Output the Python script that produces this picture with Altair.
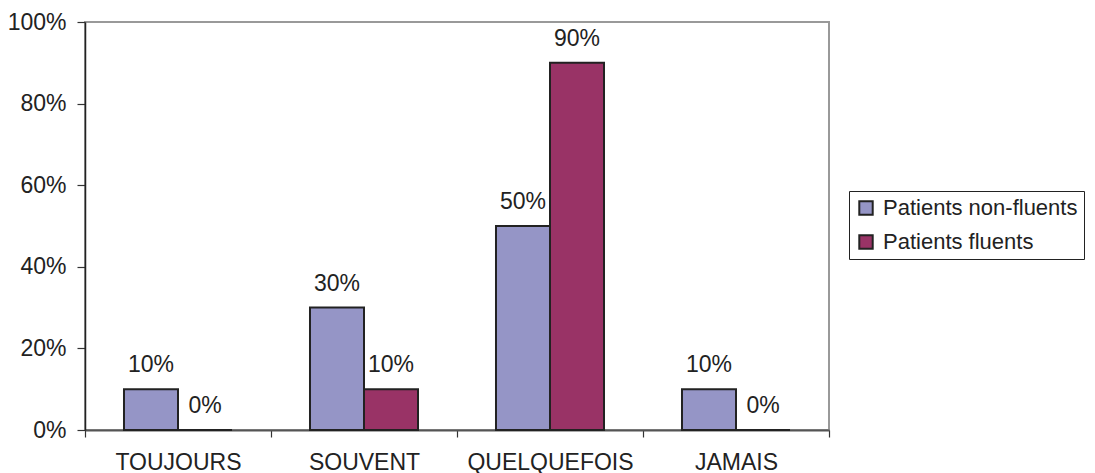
import altair as alt
import pandas as pd

categories = ["TOUJOURS", "SOUVENT", "QUELQUEFOIS", "JAMAIS"]
series = ["Patients non-fluents", "Patients fluents"]
non_fluents = [0.10, 0.30, 0.50, 0.10]
fluents = [0.00, 0.10, 0.90, 0.00]
colors = ["#9595C6", "#993366"]

rows = []
for c, v in zip(categories, non_fluents):
    rows.append({"cat": c, "serie": series[0], "val": v})
for c, v in zip(categories, fluents):
    rows.append({"cat": c, "serie": series[1], "val": v})
df = pd.DataFrame(rows)

FONT = "Liberation Sans"

x = alt.X("cat:N", sort=categories, title=None,
          scale=alt.Scale(paddingInner=0, paddingOuter=0),
          axis=alt.Axis(labelAngle=0, tickBand="extent", tickSize=7,
                        labelPadding=14, labelFontSize=23, labelFont=FONT,
                        labelColor="#222", domainColor="#555", domainWidth=2,
                        tickColor="#333", tickWidth=1.2, grid=False))
xo = alt.XOffset("serie:N", sort=series,
                 scale=alt.Scale(paddingOuter=0.722, paddingInner=0))
y = alt.Y("val:Q", title=None,
          scale=alt.Scale(domain=[0, 1], nice=False),
          axis=alt.Axis(values=[0, 0.2, 0.4, 0.6, 0.8, 1.0], format="%",
                        tickSize=8, labelPadding=11, labelFontSize=23,
                        labelFont=FONT, labelColor="#222", domainColor="#222",
                        domainWidth=1.5, tickColor="#333", tickWidth=1.2,
                        grid=False))

bars = alt.Chart(df).mark_bar(stroke="#222", strokeWidth=2).encode(
    x=x, xOffset=xo, y=y,
    color=alt.Color("serie:N", sort=series, title=None,
                    scale=alt.Scale(domain=series, range=colors),
                    legend=alt.Legend(orient="none", legendX=764, legendY=169,
                                      fillColor="white", strokeColor="#222",
                                      padding=6, labelFont=FONT,
                                      labelFontSize=22, labelColor="#222",
                                      symbolType="square", symbolSize=180,
                                      symbolStrokeColor="#222",
                                      symbolStrokeWidth=2, labelOffset=6,
                                      rowPadding=12, labelLimit=400)),
)

labels = alt.Chart(df).mark_text(fontSize=23, font=FONT, color="#222",
                                 baseline="alphabetic", dy=-17).encode(
    x=alt.X("cat:N", sort=categories),
    xOffset=alt.XOffset("serie:N", sort=series),
    y="val:Q",
    text=alt.Text("val:Q", format=".0%"),
)

chart = alt.layer(bars, labels).properties(
    width=744, height=408,
    autosize=alt.AutoSizeParams(type="none"),
    padding={"left": 77, "top": 14, "right": 257, "bottom": 44},
).configure_view(stroke="#999", strokeWidth=2)

chart.save("out.html", embed_options={"renderer": "svg", "actions": False})
